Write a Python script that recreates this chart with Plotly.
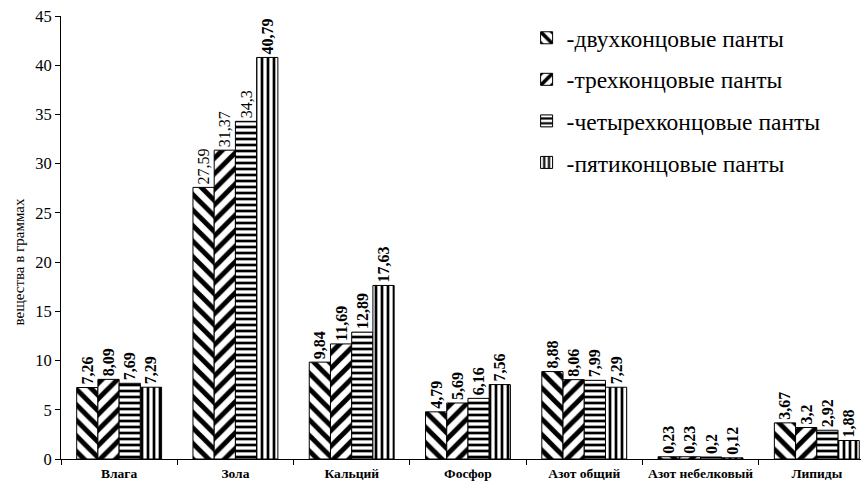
import plotly.graph_objects as go

categories = ["Влага", "Зола", "Кальций", "Фосфор", "Азот общий", "Азот небелковый", "Липиды"]

series_names = [
    "-двухконцовые панты",
    "-трехконцовые панты",
    "-четырехконцовые панты",
    "-пятиконцовые панты",
]
two_tine = [7.26, 27.59, 9.84, 4.79, 8.88, 0.23, 3.67]
three_tine = [8.09, 31.37, 11.69, 5.69, 8.06, 0.23, 3.2]
four_tine = [7.69, 34.3, 12.89, 6.16, 7.99, 0.2, 2.92]
five_tine = [7.29, 40.79, 17.63, 7.56, 7.29, 0.12, 1.88]

# labels printed in regular weight (the rest are bold)
plain_labels = {(0, 1), (1, 1), (2, 1)}

y_ticks = [0, 5, 10, 15, 20, 25, 30, 35, 40, 45]

FONT = "Liberation Serif"

series = [two_tine, three_tine, four_tine, five_tine]
patterns = [("\\", 11, 0.45), ("/", 11, 0.45), ("-", 6, 0.45), ("|", 6, 0.45)]


def fmt(v):
    return str(v).replace(".", ",")


fig = go.Figure()
for s, (name, vals, (shape, size, sol)) in enumerate(zip(series_names, series, patterns)):
    texts = []
    for c, v in enumerate(vals):
        t = fmt(v)
        texts.append(t if (s, c) in plain_labels else f"<b>{t}</b>")
    fig.add_trace(go.Bar(
        x=categories,
        y=vals,
        name=name,
        legendgroup=f"g{s}",
        text=texts,
        textposition="outside",
        textangle=-90,
        constraintext="none",
        cliponaxis=False,
        textfont=dict(family=FONT, size=16, color="black"),
        marker=dict(
            color="white",
            line=dict(color="black", width=1),
            pattern=dict(shape=shape, size=size, solidity=sol,
                         fgcolor="black", bgcolor="white", fgopacity=1),
        ),
    ))

# y-axis caption, placed as a rotated annotation left of the tick labels
fig.add_annotation(
    text="вещества в граммах",
    xref="paper", yref="paper",
    x=-0.053, y=0.445,
    xanchor="center", yanchor="middle",
    textangle=-90,
    showarrow=False,
    font=dict(family=FONT, size=15, color="black"),
)

fig.update_layout(
    width=861,
    height=485,
    margin=dict(l=61, r=0, t=16, b=26),
    paper_bgcolor="white",
    plot_bgcolor="white",
    barmode="group",
    bargap=0.27,
    bargroupgap=0,
    font=dict(family=FONT, color="black"),
    showlegend=True,
    legend=dict(
        x=0.582, y=1.0, xanchor="left", yanchor="top",
        font=dict(family=FONT, size=23.5, color="black"),
        tracegroupgap=8,
        itemwidth=30,
        bgcolor="rgba(0,0,0,0)",
    ),
    xaxis=dict(
        type="category",
        range=[-0.5, 6.38],
        tickson="boundaries",
        ticks="outside",
        ticklen=5,
        tickcolor="black",
        tickangle=0,
        automargin=False,
        showline=True,
        linecolor="black",
        linewidth=1,
        showgrid=False,
        ticklabelstandoff=2,
        tickfont=dict(family=FONT, size=13.5, color="black", weight="bold"),
    ),
    yaxis=dict(
        range=[0, 45],
        tickvals=y_ticks,
        ticks="outside",
        ticklen=5,
        tickcolor="black",
        automargin=False,
        showline=True,
        linecolor="black",
        linewidth=1,
        showgrid=False,
        zeroline=False,
        tickfont=dict(family=FONT, size=16.5, color="black"),
    ),
)

fig.write_html("out.html")
